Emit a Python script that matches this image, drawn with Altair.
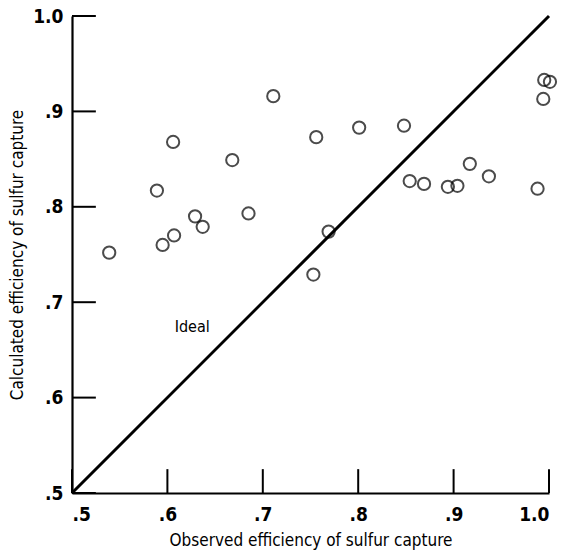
import altair as alt
import pandas as pd

# Observed vs. calculated efficiency of sulfur capture
observed = [0.539, 0.589, 0.606, 0.595, 0.607, 0.629, 0.637, 0.668, 0.685, 0.711,
            0.756, 0.753, 0.769, 0.801, 0.848, 0.854, 0.869, 0.894, 0.904, 0.917,
            0.937, 0.988, 0.995, 1.001, 0.994]
calculated = [0.752, 0.817, 0.868, 0.760, 0.770, 0.790, 0.779, 0.849, 0.793, 0.916,
              0.873, 0.729, 0.774, 0.883, 0.885, 0.827, 0.824, 0.821, 0.822, 0.845,
              0.832, 0.819, 0.933, 0.931, 0.913]
tick_values = [0.5, 0.6, 0.7, 0.8, 0.9, 1.0]
ideal_ends = [0.5, 1.0]
ideal_text = ["Ideal"]
ideal_text_pos = [0.626, 0.674]

FONT = "DejaVu Sans Condensed, Liberation Sans Narrow, Roboto Condensed, sans-serif"
W, H = 477, 477
TICK_LEN = 0.025  # inward tick length, in data units

points_df = pd.DataFrame({"observed": observed, "calculated": calculated})
ideal_df = pd.DataFrame({"observed": ideal_ends, "calculated": ideal_ends})
label_df = pd.DataFrame({"observed": [ideal_text_pos[0]],
                         "calculated": [ideal_text_pos[1]],
                         "t": ideal_text})

# inward tick segments as two-point polylines (bottom ticks up, left ticks right)
seg_rows = []
for i, v in enumerate(tick_values):
    seg_rows.append({"seg": f"b{i}", "observed": v, "calculated": 0.5})
    seg_rows.append({"seg": f"b{i}", "observed": v, "calculated": 0.5 + TICK_LEN})
    seg_rows.append({"seg": f"l{i}", "observed": 0.5, "calculated": v})
    seg_rows.append({"seg": f"l{i}", "observed": 0.5 + TICK_LEN, "calculated": v})
tick_seg_df = pd.DataFrame(seg_rows)

label_expr = "datum.value >= 0.999 ? '1.0' : replace(format(datum.value, '.1f'), '0.', '.')"

xscale = alt.Scale(domain=[0.5, 1.0], nice=False, zero=False)
yscale = alt.Scale(domain=[0.5, 1.0], nice=False, zero=False)

x_axis = alt.Axis(
    values=tick_values, labelExpr=label_expr, ticks=False, grid=False,
    domainColor="black", domainWidth=2.2, labelFont=FONT, labelFontSize=19,
    labelFontWeight="bold", labelColor="black", labelPadding=12,
    title="Observed efficiency of sulfur capture", titleFont=FONT,
    titleFontSize=17, titleFontWeight="normal", titleColor="black",
    titleY=47, titleBaseline="middle",
)
y_axis = alt.Axis(
    values=tick_values, labelExpr=label_expr, ticks=False, grid=False,
    domainColor="black", domainWidth=2.2, labelFont=FONT, labelFontSize=19,
    labelFontWeight="bold", labelColor="black", labelPadding=9,
    labelBaseline="middle",
    title="Calculated efficiency of sulfur capture", titleFont=FONT,
    titleFontSize=17, titleFontWeight="normal", titleColor="black",
    titleX=-55, titleY=W / 2, titleAlign="center", titleBaseline="middle",
)

ideal = alt.Chart(ideal_df).mark_line(color="black", strokeWidth=3).encode(
    x=alt.X("observed:Q", scale=xscale, axis=x_axis),
    y=alt.Y("calculated:Q", scale=yscale, axis=y_axis),
)

tick_lines = alt.Chart(tick_seg_df).mark_line(color="black", strokeWidth=2).encode(
    x=alt.X("observed:Q", scale=xscale),
    y=alt.Y("calculated:Q", scale=yscale),
    detail="seg:N",
)

points = alt.Chart(points_df).mark_point(
    shape="circle", filled=False, size=150, strokeWidth=2, color="black"
).encode(
    x=alt.X("observed:Q", scale=xscale),
    y=alt.Y("calculated:Q", scale=yscale),
)

ideal_label = alt.Chart(label_df).mark_text(
    font=FONT, fontSize=16, color="black", align="center", baseline="middle",
).encode(
    x=alt.X("observed:Q", scale=xscale),
    y=alt.Y("calculated:Q", scale=yscale),
    text="t:N",
)

chart = alt.layer(ideal, tick_lines, points, ideal_label).properties(
    width=W, height=H,
    autosize=alt.AutoSizeParams(type="none"),
    padding={"left": 72, "top": 16, "right": 17, "bottom": 62},
    background="white",
).configure_view(stroke=None)

chart.save("out.html", embed_options={"renderer": "svg", "actions": False})
